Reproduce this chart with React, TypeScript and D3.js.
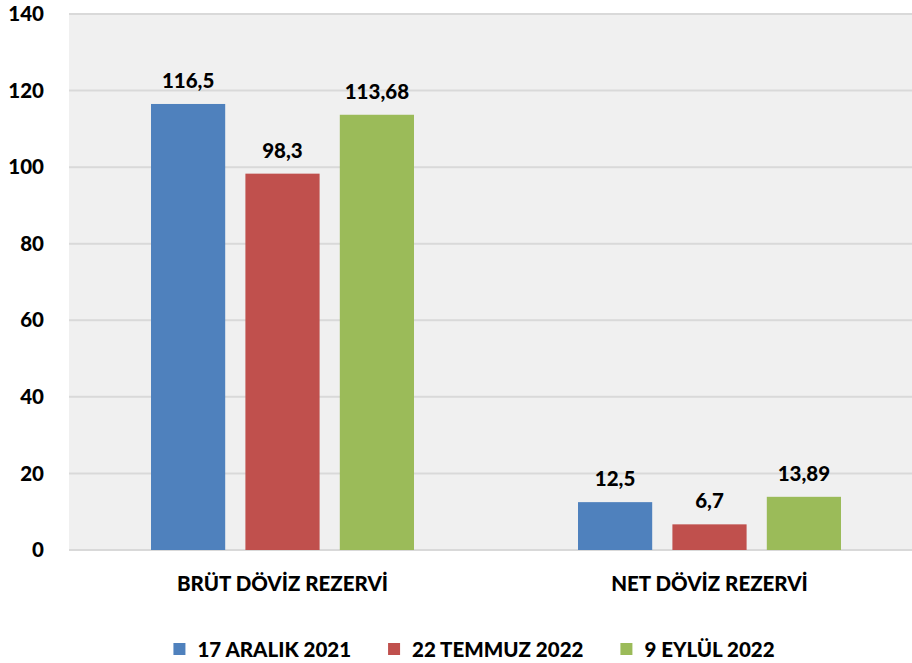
import React, { useEffect, useRef } from 'react'
import * as d3 from 'd3'

// categories and series
const categories = ['BRÜT DÖVİZ REZERVİ', 'NET DÖVİZ REZERVİ']
const seriesNames = ['17 ARALIK 2021', '22 TEMMUZ 2022', '9 EYLÜL 2022']
const seriesColors = ['#4f81bd', '#c0504d', '#9bbb59']
// values per series, in category order
const aralik2021 = [116.5, 12.5]
const temmuz2022 = [98.3, 6.7]
const eylul2022 = [113.68, 13.89]
const seriesValues = [aralik2021, temmuz2022, eylul2022]
const yTicks = [0, 20, 40, 60, 80, 100, 120, 140]

const W = 912
const H = 663
const FONT = 'Lato, "Open Sans", sans-serif'
const FS = 20.5
const FW = 900

export default function App() {
  const ref = useRef<SVGSVGElement | null>(null)

  useEffect(() => {
    const svg = d3.select(ref.current)
    svg.selectAll('*').remove()

    const left = 69, right = 923, top = 14, bottom = 550

    const x = d3.scaleBand<string>().domain(categories).range([left, right])
    const y = d3.scaleLinear().domain([0, 140]).range([bottom, top])
    // inner band for the three series within each category
    const groupPad = 82
    const xSub = d3.scaleBand<string>()
      .domain(seriesNames)
      .range([groupPad, x.bandwidth() - groupPad])
      .paddingInner(0.214)

    const txt = (sel: any) => sel
      .attr('font-family', FONT)
      .attr('font-weight', FW)
      .attr('font-size', FS)
      .attr('fill', '#000')

    // plot background
    svg.append('rect')
      .attr('x', left).attr('y', top)
      .attr('width', right - left).attr('height', bottom - top)
      .attr('fill', '#f0f0f0')

    // gridlines
    svg.append('g')
      .selectAll('line')
      .data(yTicks)
      .join('line')
      .attr('x1', left).attr('x2', right)
      .attr('y1', d => y(d)).attr('y2', d => y(d))
      .attr('stroke', '#d9d9d9')
      .attr('stroke-width', 2)

    // y tick labels
    svg.append('g')
      .selectAll('text')
      .data(yTicks)
      .join('text')
      .attr('x', 44)
      .attr('y', d => y(d))
      .attr('dy', '0.35em')
      .attr('text-anchor', 'end')
      .call(txt)
      .text(d => d)

    // bars
    const rows = categories.flatMap((c, ci) =>
      seriesNames.map((s, si) => ({ c, s, si, v: seriesValues[si][ci] })))

    const fmt = (v: number) => String(v).replace('.', ',')

    const bars = svg.append('g')
    bars.selectAll('rect')
      .data(rows)
      .join('rect')
      .attr('x', d => (x(d.c) as number) + (xSub(d.s) as number))
      .attr('y', d => y(d.v))
      .attr('width', xSub.bandwidth())
      .attr('height', d => y(0) - y(d.v))
      .attr('fill', d => seriesColors[d.si])

    bars.selectAll('text')
      .data(rows)
      .join('text')
      .attr('x', d => (x(d.c) as number) + (xSub(d.s) as number) + xSub.bandwidth() / 2)
      .attr('y', d => y(d.v) - 16)
      .attr('text-anchor', 'middle')
      .call(txt)
      .text(d => fmt(d.v))

    // category labels
    svg.append('g')
      .selectAll('text')
      .data(categories)
      .join('text')
      .attr('x', d => (x(d) as number) + x.bandwidth() / 2)
      .attr('y', 591)
      .attr('text-anchor', 'middle')
      .call(txt)
      .text(d => d)

    // legend
    const legend = svg.append('g')
    const items = legend.selectAll('g')
      .data(seriesNames)
      .join('g')
    items.append('rect')
      .attr('width', 12).attr('height', 12)
      .attr('y', 643)
      .attr('fill', (d, i) => seriesColors[i])
    items.append('text')
      .attr('x', 24)
      .attr('y', 657)
      .call(txt)
      .text(d => d)
    const widths: number[] = []
    items.select('text').each(function () {
      widths.push((this as SVGTextElement).getComputedTextLength())
    })
    const gap = 37
    const total = d3.sum(widths.map(w => 24 + w)) + gap * (widths.length - 1)
    let cx = 474 - total / 2
    items.attr('transform', (d, i) => {
      const t = `translate(${cx},0)`
      cx += 24 + widths[i] + gap
      return t
    })
  }, [])

  return (
    <svg ref={ref} width={W} height={H}
      style={{ position: 'absolute', left: 0, top: 0, background: '#fff' }} />
  )
}
